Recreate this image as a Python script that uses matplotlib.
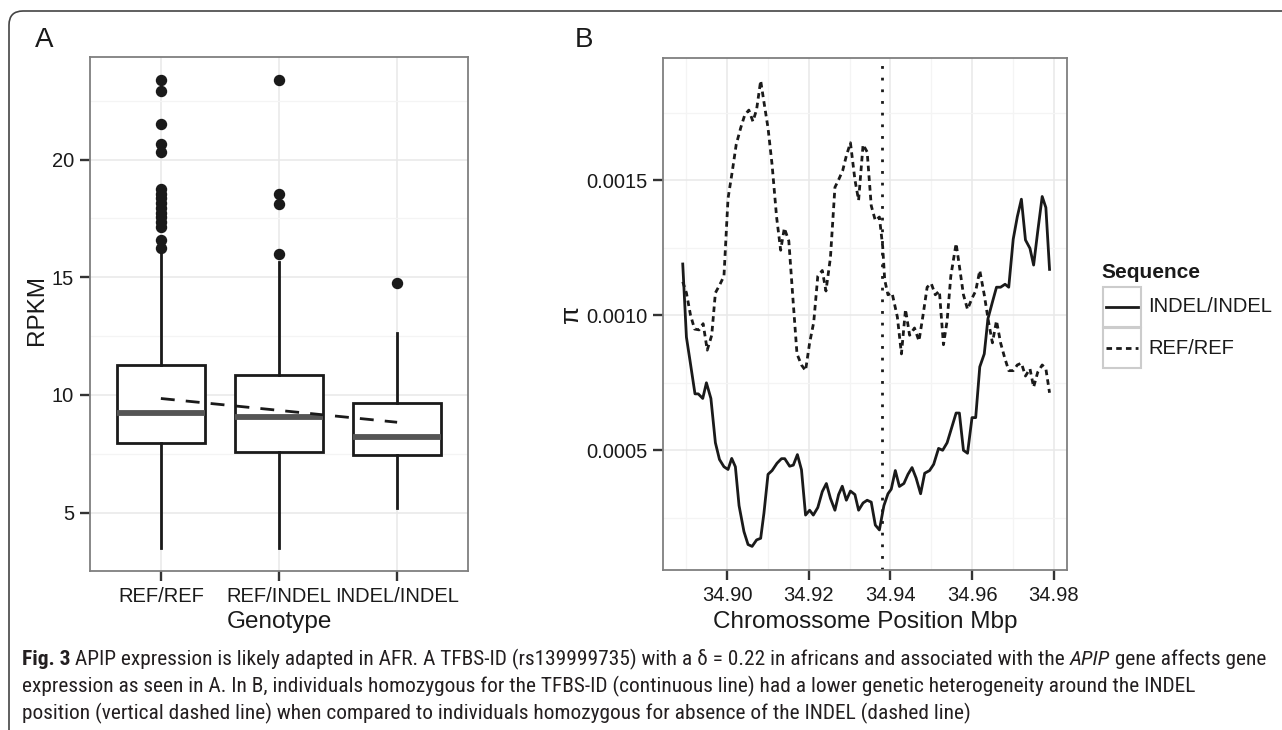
import matplotlib
matplotlib.use('Agg')
import matplotlib.pyplot as plt
from matplotlib import font_manager
from matplotlib.patches import Rectangle, FancyBboxPatch
from matplotlib.lines import Line2D

# ---- panel A data (RPKM by genotype) ----
genotypes = ["REF/REF", "REF/INDEL", "INDEL/INDEL"]
q1 = [7.98, 7.58, 7.46]
med = [9.24, 9.06, 8.22]
q3 = [11.26, 10.86, 9.65]
whis_lo = [3.49, 3.49, 5.19]
whis_hi = [16.06, 15.66, 12.63]
out_refref = [23.37, 22.9, 21.5, 20.67, 20.34, 18.74, 18.55, 18.35, 18.15,
              17.95, 17.75, 17.55, 17.35, 17.15, 16.6, 16.25]
out_refindel = [23.37, 18.52, 18.11, 16.01]
out_indel = [14.75]
trend = [9.85, 8.84]   # lm line from REF/REF to INDEL/INDEL

# ---- panel B data (pi along chromosome) ----
pos_indel = [34.8891, 34.8900, 34.8909, 34.8921, 34.8929, 34.8940, 34.8949, 34.8960, 34.8971, 34.8981,
             34.8992, 34.9002, 34.9011, 34.9020, 34.9029, 34.9041, 34.9051, 34.9061, 34.9072, 34.9082,
             34.9090, 34.9100, 34.9110, 34.9122, 34.9133, 34.9141, 34.9153, 34.9162, 34.9172, 34.9182,
             34.9192, 34.9202, 34.9211, 34.9222, 34.9233, 34.9243, 34.9253, 34.9264, 34.9273, 34.9282,
             34.9292, 34.9302, 34.9313, 34.9322, 34.9333, 34.9343, 34.9353, 34.9363, 34.9373, 34.9384,
             34.9394, 34.9402, 34.9412, 34.9422, 34.9433, 34.9443, 34.9453, 34.9463, 34.9474, 34.9484,
             34.9496, 34.9506, 34.9518, 34.9528, 34.9539, 34.9550, 34.9561, 34.9569, 34.9579, 34.9589,
             34.9600, 34.9609, 34.9619, 34.9630, 34.9639, 34.9650, 34.9660, 34.9670, 34.9681, 34.9690,
             34.9701, 34.9711, 34.9721, 34.9731, 34.9742, 34.9751, 34.9761, 34.9772, 34.9781, 34.9790]
pi_indel = [0.001189, 0.000918, 0.000829, 0.000708, 0.000708, 0.000691, 0.000749, 0.000691, 0.000527, 0.000465,
            0.000438, 0.000428, 0.000469, 0.000438, 0.000294, 0.000198, 0.000150, 0.000143, 0.000167, 0.000173,
            0.000266, 0.000410, 0.000424, 0.000451, 0.000468, 0.000468, 0.000440, 0.000444, 0.000483, 0.000427,
            0.000259, 0.000277, 0.000259, 0.000287, 0.000346, 0.000376, 0.000321, 0.000277, 0.000335, 0.000366,
            0.000314, 0.000348, 0.000335, 0.000277, 0.000304, 0.000314, 0.000307, 0.000222, 0.000204, 0.000294,
            0.000338, 0.000355, 0.000424, 0.000365, 0.000376, 0.000410, 0.000435, 0.000396, 0.000338, 0.000414,
            0.000424, 0.000447, 0.000506, 0.000499, 0.000527, 0.000582, 0.000637, 0.000637, 0.000499, 0.000488,
            0.000620, 0.000620, 0.000808, 0.000856, 0.000986, 0.001048, 0.001103, 0.001103, 0.001114, 0.001103,
            0.001281, 0.001364, 0.001429, 0.001278, 0.001247, 0.001185, 0.001309, 0.001439, 0.001398, 0.001169]

pos_ref = [34.8891, 34.8900, 34.8910, 34.8920, 34.8931, 34.8941, 34.8951, 34.8962, 34.8971, 34.8981,
           34.8992, 34.9002, 34.9012, 34.9022, 34.9033, 34.9043, 34.9053, 34.9063, 34.9072, 34.9082,
           34.9090, 34.9100, 34.9110, 34.9121, 34.9131, 34.9140, 34.9151, 34.9161, 34.9171, 34.9182,
           34.9192, 34.9202, 34.9212, 34.9222, 34.9233, 34.9242, 34.9253, 34.9264, 34.9273, 34.9283,
           34.9292, 34.9302, 34.9313, 34.9322, 34.9333, 34.9343, 34.9353, 34.9363, 34.9373, 34.9381,
           34.9386, 34.9394, 34.9404, 34.9417, 34.9427, 34.9437, 34.9447, 34.9459, 34.9470, 34.9480,
           34.9490, 34.9500, 34.9510, 34.9520, 34.9530, 34.9539, 34.9548, 34.9561, 34.9570, 34.9579,
           34.9589, 34.9600, 34.9609, 34.9619, 34.9630, 34.9640, 34.9650, 34.9660, 34.9670, 34.9680,
           34.9690, 34.9701, 34.9711, 34.9721, 34.9731, 34.9742, 34.9751, 34.9761, 34.9772, 34.9781,
           34.9790]
pi_ref = [0.001123, 0.001082, 0.001000, 0.000948, 0.000945, 0.000968, 0.000870, 0.000925, 0.001082, 0.001110,
          0.001144, 0.001432, 0.001528, 0.001631, 0.001693, 0.001741, 0.001759, 0.001717, 0.001761, 0.001868,
          0.001789, 0.001693, 0.001556, 0.001363, 0.001240, 0.001322, 0.001274, 0.001062, 0.000856, 0.000815,
          0.000794, 0.000897, 0.000973, 0.001144, 0.001165, 0.001089, 0.001213, 0.001473, 0.001501, 0.001535,
          0.001590, 0.001638, 0.001501, 0.001425, 0.001631, 0.001604, 0.001405, 0.001350, 0.001363, 0.001254,
          0.001130, 0.001075, 0.001082, 0.000993, 0.000856, 0.001021, 0.000925, 0.000952, 0.000904, 0.001000,
          0.001103, 0.001117, 0.001075, 0.001089, 0.000890, 0.000979, 0.001144, 0.001265, 0.001171, 0.001075,
          0.001021, 0.001062, 0.001089, 0.001165, 0.001075, 0.000979, 0.000897, 0.000979, 0.000897, 0.000842,
          0.000794, 0.000794, 0.000815, 0.000822, 0.000774, 0.000801, 0.000733, 0.000788, 0.000815, 0.000801,
          0.000712]
indel_pos = 34.938
x_ticks = [34.90, 34.92, 34.94, 34.96, 34.98]
y_ticks = [0.0005, 0.0010, 0.0015]

caption = [
    [("Fig. 3", "bold"), (" APIP expression is likely adapted in AFR. A TFBS-ID (rs139999735) with a \u03b4 = 0.22 in africans and associated with the ", "normal"),
     ("APIP", "italic"), (" gene affects gene", "normal")],
    [("expression as seen in A. In B, individuals homozygous for the TFBS-ID (continuous line) had a lower genetic heterogeneity around the INDEL", "normal")],
    [("position (vertical dashed line) when compared to individuals homozygous for absence of the INDEL (dashed line)", "normal")],
]

W, H = 1282, 730
plt.rcParams['font.family'] = ['Liberation Sans', 'DejaVu Sans']
fig = plt.figure(figsize=(W / 100, H / 100), dpi=100)
fig.patch.set_facecolor('white')


def fx(x):
    return x / W


def fy(y):
    return 1 - y / H


DARK = '#1a1a1a'
DASH = (0, (2.0, 1.5))


def bw_style(ax):
    for s in ax.spines.values():
        s.set_color('#7f7f7f')
        s.set_linewidth(1.3)
    ax.set_axisbelow(True)
    ax.grid(which='major', color='#e8e8e8', lw=1.1)
    ax.grid(which='minor', color='#f4f4f4', lw=0.9)
    ax.tick_params(which='major', length=7.5, width=1.7, color='#333333',
                   labelsize=14.5, labelcolor=DARK, pad=4)
    ax.tick_params(which='minor', length=0)


# ---------------- panel A ----------------
axA = fig.add_axes([fx(90), fy(571), (468 - 90) / W, (571 - 57) / H])
fliers = [out_refref, out_refindel, out_indel]
stats = [dict(med=med[i], q1=q1[i], q3=q3[i], whislo=whis_lo[i], whishi=whis_hi[i],
              fliers=fliers[i], label=genotypes[i]) for i in range(3)]
axA.bxp(stats, positions=[1, 2, 3], widths=0.75, showcaps=False, patch_artist=True,
        boxprops=dict(facecolor='white', edgecolor=DARK, lw=2.0),
        medianprops=dict(color='#555555', lw=4.2, solid_capstyle='butt'),
        whiskerprops=dict(color=DARK, lw=2.0),
        flierprops=dict(marker='o', markerfacecolor=DARK, markeredgecolor=DARK, markersize=7.2))
axA.plot([1, 3], trend, color=DARK, lw=2.0, ls=(0, (5, 4)), zorder=5)
axA.set_xlim(0.4, 3.6)
axA.set_ylim(2.52, 24.36)
axA.set_yticks([5, 10, 15, 20])
axA.set_yticks([7.5, 12.5, 17.5, 22.5], minor=True)
axA.set_xticks([1, 2, 3])
axA.set_xticklabels(genotypes)
bw_style(axA)

# ---------------- panel B ----------------
axB = fig.add_axes([fx(663), fy(570), (1067 - 663) / W, (570 - 58) / H])
axB.plot(pos_ref, pi_ref, color=DARK, lw=2.0, ls=DASH)
axB.plot(pos_indel, pi_indel, color=DARK, lw=2.0, solid_joinstyle='round')
axB.axvline(indel_pos, color=DARK, lw=2.0, ls=(0, (1.0, 3.2)))
axB.set_xlim(34.88426, 34.98328)
axB.set_ylim(0.0000556, 0.001952)
axB.set_xticks(x_ticks)
axB.set_xticklabels([f"{v:.2f}" for v in x_ticks])
axB.set_xticks([34.89, 34.91, 34.93, 34.95, 34.97], minor=True)
axB.set_yticks(y_ticks)
axB.set_yticklabels([f"{v:.4f}" for v in y_ticks])
axB.set_yticks([0.00025, 0.00075, 0.00125, 0.00175], minor=True)
bw_style(axB)

# axis titles and panel letters
fig.text(fx(37), fy(310), "RPKM", rotation=90, ha='center', va='center', fontsize=17.5, color=DARK)
fig.text(fx(279), fy(622), "Genotype", ha='center', va='center', fontsize=17.5, color=DARK)
fig.text(fx(571), fy(314), "\u03c0", rotation=90, ha='center', va='center', fontsize=19, color=DARK)
fig.text(fx(865), fy(622), "Chromossome Position Mbp", ha='center', va='center', fontsize=17.5, color=DARK)
fig.text(fx(35), fy(40), "A", ha='left', va='center', fontsize=20, color=DARK)
fig.text(fx(575), fy(40), "B", ha='left', va='center', fontsize=20, color=DARK)

# legend (ggplot style keys)
fig.text(fx(1101), fy(272), "Sequence", ha='left', va='center', fontsize=15, fontweight='bold', color=DARK)
for k, (lab, style) in enumerate([("INDEL/INDEL", '-'), ("REF/REF", DASH)]):
    top = 287 + k * 41
    fig.add_artist(Rectangle((fx(1103), fy(top + 40)), 38 / W, 40 / H, transform=fig.transFigure,
                             facecolor='white', edgecolor='#cccccc', lw=1.5))
    fig.add_artist(Line2D([fx(1106), fx(1138)], [fy(top + 20)] * 2, transform=fig.transFigure,
                          color=DARK, lw=2.0, ls=style))
    fig.text(fx(1148), fy(top + 20), lab, ha='left', va='center', fontsize=14.5, color=DARK)

# outer frame (rounded top-left corner, open to the right and bottom)
fig.add_artist(FancyBboxPatch((9, -40), W + 40, H - 11 + 40, boxstyle='round,pad=0,rounding_size=14',
                              transform=None, fill=False, ec='#444444', lw=1.2))

# caption font: prefer a narrow face if one is installed
cap_fam = ['Liberation Sans', 'DejaVu Sans']
cap_stretch = 'normal'
names = {f.name for f in font_manager.fontManager.ttflist}
for cand in ['Liberation Sans Narrow', 'Roboto Condensed', 'Open Sans Condensed', 'Noto Sans Condensed']:
    if cand in names:
        cap_fam = [cand, 'DejaVu Sans']
        break
else:
    for f in font_manager.fontManager.ttflist:
        if f.stretch == 'condensed' and f.name in ('DejaVu Sans', 'Noto Sans', 'Open Sans', 'Roboto'):
            cap_fam = [f.name, 'DejaVu Sans']
            cap_stretch = 'condensed'
            break

renderer = fig.canvas.get_renderer()


def draw_line(parts, x0, yb, size, draw=True):
    x = x0
    arts = []
    for txt, st in parts:
        t = fig.text(fx(x), fy(yb), txt, ha='left', va='baseline', fontsize=size, color='#231f20',
                     family=cap_fam, fontstretch=cap_stretch,
                     fontweight='bold' if st == 'bold' else 'normal',
                     fontstyle='italic' if st == 'italic' else 'normal')
        bb = t.get_window_extent(renderer)
        x += bb.width
        arts.append(t)
    if not draw:
        for a in arts:
            a.remove()
    return x - x0


w0 = draw_line(caption[0], 22, 665, 13, draw=False)
cap_size = 13 * 1240 / w0
for i, parts in enumerate(caption):
    draw_line(parts, 22, 665 + 27 * i, cap_size)

fig.savefig('out.png', dpi=100)
